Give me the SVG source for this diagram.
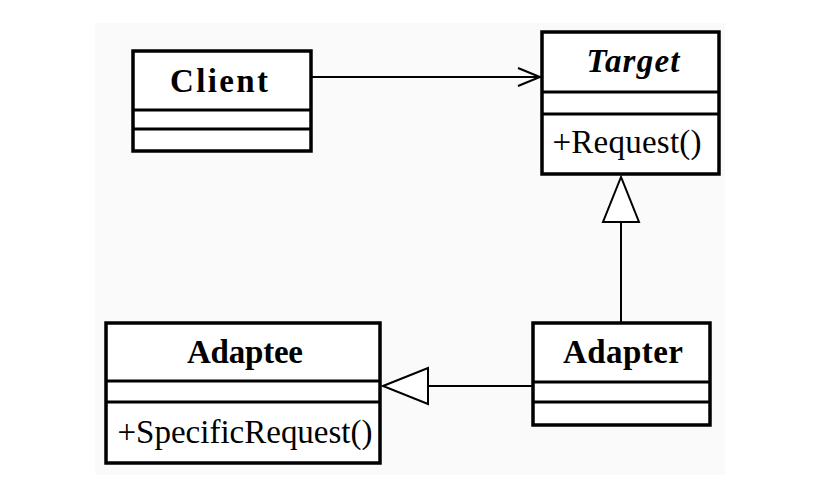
<svg xmlns="http://www.w3.org/2000/svg" width="821" height="486" viewBox="0 0 821 486">
  <style>
    .box { fill: #ffffff; stroke: #000000; stroke-width: 3.5; }
    .div { stroke: #000000; stroke-width: 3; }
    .edge { fill: none; stroke: #000000; stroke-width: 2; }
    .head { fill: #ffffff; stroke: #000000; stroke-width: 2; stroke-linejoin: miter; }
    .name { font-family: "Liberation Serif", "Times New Roman", serif; font-size: 33px; font-weight: bold; text-anchor: middle; fill: #000000; }
    .abstract { font-style: italic; }
    .op { font-family: "Liberation Serif", "Times New Roman", serif; font-size: 33px; text-anchor: middle; fill: #000000; }
  </style>

  <rect x="0" y="0" width="821" height="486" fill="#ffffff"/>
  <rect x="95" y="23" width="630" height="452" fill="#fafafa"/>

  <!-- connectors -->
  <g id="connectors">
    <!-- Client uses Target -->
    <line class="edge" x1="311" y1="77" x2="540" y2="77"/>
    <polyline class="edge" points="518,68 540,77 518,86"/>
    <!-- Adapter realizes Target -->
    <line class="edge" x1="621" y1="323" x2="621" y2="222"/>
    <polygon class="head" points="621,177 603,222 639,222"/>
    <!-- Adapter extends Adaptee -->
    <line class="edge" x1="533" y1="386" x2="428" y2="386"/>
    <polygon class="head" points="383,386 428,368 428,404"/>
  </g>

  <g id="client">
    <rect class="box" x="133" y="51" width="178" height="100"/>
    <line class="div" x1="133" y1="110" x2="311" y2="110"/>
    <line class="div" x1="133" y1="129" x2="311" y2="129"/>
    <text class="name" x="219" y="92" textLength="98" lengthAdjust="spacing">Client</text>
  </g>

  <g id="target">
    <rect class="box" x="542" y="32" width="177" height="142"/>
    <line class="div" x1="542" y1="92" x2="719" y2="92"/>
    <line class="div" x1="542" y1="114" x2="719" y2="114"/>
    <text class="name abstract" x="633" y="72" textLength="93" lengthAdjust="spacing">Target</text>
    <text class="op" x="627" y="153" textLength="149" lengthAdjust="spacing">+Request()</text>
  </g>

  <g id="adaptee">
    <rect class="box" x="106" y="323" width="274" height="140"/>
    <line class="div" x1="106" y1="381" x2="380" y2="381"/>
    <line class="div" x1="106" y1="402" x2="380" y2="402"/>
    <text class="name" x="245" y="363" textLength="116" lengthAdjust="spacing">Adaptee</text>
    <text class="op" x="245" y="443" textLength="255" lengthAdjust="spacing">+SpecificRequest()</text>
  </g>

  <g id="adapter">
    <rect class="box" x="533" y="323" width="177" height="102"/>
    <line class="div" x1="533" y1="382" x2="710" y2="382"/>
    <line class="div" x1="533" y1="402" x2="710" y2="402"/>
    <text class="name" x="623" y="363" textLength="120" lengthAdjust="spacing">Adapter</text>
  </g>
</svg>
